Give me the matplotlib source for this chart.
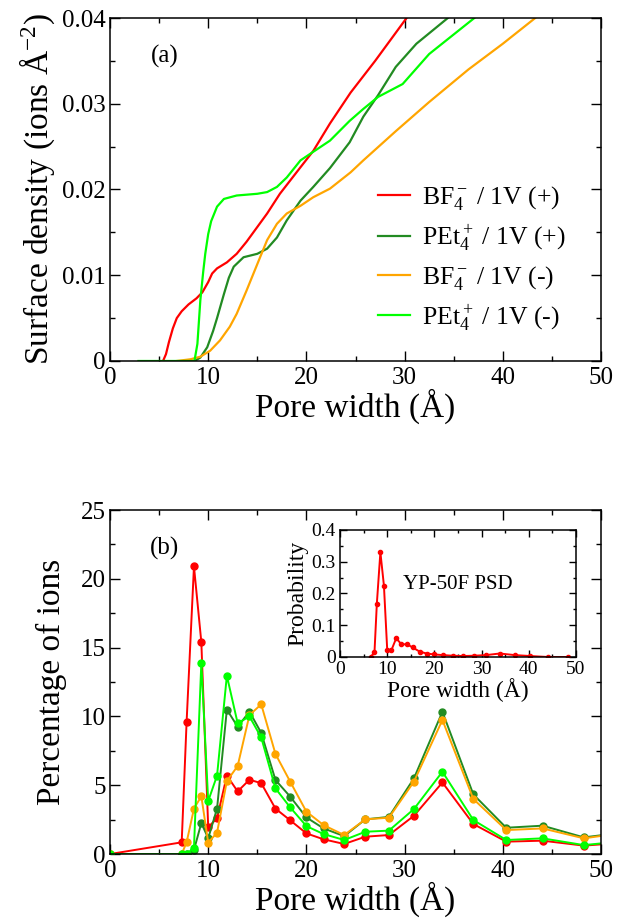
import matplotlib
matplotlib.use("Agg")
import matplotlib.pyplot as plt
from matplotlib.ticker import MultipleLocator

plt.rcParams['font.family'] = ['Liberation Serif', 'DejaVu Serif']
plt.rcParams['mathtext.fontset'] = 'custom'
plt.rcParams['mathtext.rm'] = 'Liberation Serif'
plt.rcParams['mathtext.it'] = 'Liberation Serif:italic'
plt.rcParams['mathtext.bf'] = 'Liberation Serif:bold'

# ---------------- Panel (a): cumulative surface density ----------------
red_a_x = [5.4, 5.7, 6.0, 6.4, 6.8, 7.3, 8.0, 8.8, 9.4, 10.0, 10.4, 10.9, 11.9, 12.9, 13.9,
           16.0, 17.3, 19.4, 20.7, 22.4, 24.5, 27.0, 30.2]
red_a_y = [0.0, 0.0008, 0.0022, 0.0038, 0.0050, 0.0058, 0.0066, 0.0073, 0.0080, 0.0092, 0.0102,
           0.0108, 0.0115, 0.0125, 0.0139, 0.0172, 0.0195, 0.0226, 0.0245, 0.0277, 0.0313,
           0.0350, 0.0400]

dkgreen_a_x = [8.6, 9.2, 9.9, 10.5, 10.9, 11.6, 12.1, 12.6, 13.6, 15.0, 16.0, 17.0, 18.0, 19.4,
               20.7, 22.4, 24.4, 25.8, 27.3, 29.1, 31.2, 34.4]
dkgreen_a_y = [0.0, 0.0004, 0.0016, 0.0035, 0.0050, 0.0078, 0.0097, 0.0110, 0.0121, 0.0125,
               0.0131, 0.0144, 0.0164, 0.0187, 0.0203, 0.0225, 0.0255, 0.0285, 0.0310, 0.0343,
               0.0370, 0.0400]

orange_a_x = [6.8, 8.2, 9.2, 10.2, 11.2, 12.2, 12.9, 13.9, 15.0, 16.0, 17.0, 18.0, 19.4, 20.7,
              22.4, 24.5, 25.8, 29.1, 32.5, 36.5, 40.0, 43.3]
orange_a_y = [0.0, 0.0002, 0.0005, 0.0012, 0.0024, 0.0040, 0.0055, 0.0082, 0.0113, 0.0141,
              0.0160, 0.0172, 0.0181, 0.0191, 0.0201, 0.0220, 0.0234, 0.0268, 0.0302, 0.0340,
              0.0370, 0.0400]

ltgreen_a_x = [2.9, 8.6, 8.9, 9.2, 9.5, 9.7, 10.0, 10.3, 10.9, 11.6, 12.9, 15.0, 16.0, 17.0,
               18.0, 19.4, 20.7, 22.4, 24.4, 25.8, 27.3, 29.8, 32.5, 37.1]
ltgreen_a_y = [0.0, 0.0, 0.0020, 0.0071, 0.0105, 0.0125, 0.0148, 0.0163, 0.0180, 0.0189, 0.0193,
               0.0195, 0.0197, 0.0203, 0.0214, 0.0234, 0.0244, 0.0257, 0.0280, 0.0294, 0.0308,
               0.0323, 0.0358, 0.0400]

legend_labels = [r'BF$_4^-$ / 1V (+)', r'PEt$_4^+$ / 1V (+)',
                 r'BF$_4^-$ / 1V (-)', r'PEt$_4^+$ / 1V (-)']

# ---------------- Panel (b): percentage of ions ----------------
pore_b = [0.0, 7.3, 7.8, 8.55, 9.3, 10.0, 10.9, 11.9, 13.0, 14.2, 15.4, 16.85, 18.35, 20.0,
          21.75, 23.85, 26.0, 28.4, 30.95, 33.85, 37.0, 40.35, 44.05, 48.25, 52.6]
red_b = [0.0, 0.85, 9.6, 20.9, 15.4, 1.95, 2.6, 5.7, 4.55, 5.4, 5.15, 3.3, 2.45, 1.5, 1.07,
         0.73, 1.26, 1.38, 2.78, 5.2, 2.18, 0.9, 0.97, 0.61, 0.84]
dkgreen_b = [0.0, 0.0, 0.0, 0.3, 2.25, 1.15, 3.3, 10.5, 9.25, 10.35, 8.8, 5.38, 4.17, 2.66,
             1.86, 1.3, 2.52, 2.7, 5.5, 10.34, 4.33, 1.91, 2.06, 1.21, 1.59]
orange_b = [0.0, 0.0, 0.85, 3.3, 4.2, 0.83, 1.55, 5.3, 6.4, 10.1, 10.88, 7.27, 5.26, 3.08,
            2.1, 1.38, 2.52, 2.64, 5.26, 9.74, 4.0, 1.74, 1.86, 1.14, 1.57]
ltgreen_b = [0.0, 0.0, 0.0, 0.46, 13.9, 3.85, 5.7, 12.96, 9.5, 10.0, 8.47, 4.77, 3.39, 2.03,
             1.45, 1.02, 1.62, 1.7, 3.27, 5.98, 2.47, 1.02, 1.14, 0.65, 0.95]

# ---------------- Inset: YP-50F pore size distribution ----------------
psd_x = [6.5, 7.3, 7.8, 8.55, 9.3, 10.0, 10.9, 11.9, 13.0, 14.2, 15.4, 16.85, 18.35, 20.0,
         21.75, 23.85, 26.0, 28.4, 30.95, 33.85, 37.0, 40.35, 44.05, 48.25]
psd_y = [0.0, 0.015, 0.168, 0.33, 0.225, 0.022, 0.022, 0.059, 0.040, 0.040, 0.030, 0.017,
         0.011, 0.008, 0.006, 0.004, 0.003, 0.004, 0.006, 0.011, 0.006, 0.003, 0.0, 0.0]

RED = '#ff0000'
DKGREEN = '#228b22'
ORANGE = '#ffa500'
LTGREEN = '#00ff00'


def style_axes(ax, tick_size, major_len=7, minor_len=3.5, xpad=4):
    ax.tick_params(which='both', direction='in', top=True, right=True, width=1.0)
    ax.tick_params(which='major', length=major_len, labelsize=tick_size)
    ax.tick_params(axis='x', which='major', pad=xpad)
    ax.tick_params(axis='y', which='major', pad=3)
    ax.tick_params(which='minor', length=minor_len)
    for s in ax.spines.values():
        s.set_linewidth(1.1)


fig = plt.figure(figsize=(6.18, 9.19), dpi=100)

# ---- top panel ----
ax1 = fig.add_axes([0.178, 0.6072, 0.7945, 0.3732])
for xs, ys, c, lab in [(red_a_x, red_a_y, RED, legend_labels[0]),
                       (dkgreen_a_x, dkgreen_a_y, DKGREEN, legend_labels[1]),
                       (orange_a_x, orange_a_y, ORANGE, legend_labels[2]),
                       (ltgreen_a_x, ltgreen_a_y, LTGREEN, legend_labels[3])]:
    ax1.plot(xs, ys, color=c, lw=1.6, label=lab)
ax1.set_xlim(0, 50)
ax1.set_ylim(0, 0.04)
ax1.xaxis.set_major_locator(MultipleLocator(10))
ax1.xaxis.set_minor_locator(MultipleLocator(5))
ax1.yaxis.set_minor_locator(MultipleLocator(0.005))
ax1.set_yticks([0, 0.01, 0.02, 0.03, 0.04])
ax1.set_yticklabels(['0', '0.01', '0.02', '0.03', '0.04'])
style_axes(ax1, 18)
ax1.set_xlabel('Pore width (Å)', fontsize=24, labelpad=0)
ax1.set_ylabel(r'Surface density (ions Å$^{-2}$)', fontsize=24, labelpad=4)
ax1.text(5.6, 0.0355, '(a)', fontsize=18, ha='center', va='center')
leg = ax1.legend(loc='upper left', bbox_to_anchor=(0.525, 0.545), frameon=False,
                 fontsize=18.5, handlelength=1.25, handletextpad=0.45, labelspacing=0.4,
                 borderaxespad=0)

# ---- bottom panel ----
ax2 = fig.add_axes([0.178, 0.0707, 0.7945, 0.3743])
for ys, c in [(red_b, RED), (dkgreen_b, DKGREEN), (orange_b, ORANGE), (ltgreen_b, LTGREEN)]:
    ax2.plot(pore_b, ys, color=c, lw=1.4, marker='o', ms=5, mec=c, mfc=c)
ax2.set_xlim(0, 50)
ax2.set_ylim(0, 25)
ax2.xaxis.set_major_locator(MultipleLocator(10))
ax2.xaxis.set_minor_locator(MultipleLocator(5))
ax2.yaxis.set_major_locator(MultipleLocator(5))
ax2.yaxis.set_minor_locator(MultipleLocator(2.5))
style_axes(ax2, 18)
ax2.set_xlabel('Pore width (Å)', fontsize=24, labelpad=0)
ax2.set_ylabel('Percentage of ions', fontsize=24, labelpad=10)
ax2.text(5.6, 22.2, '(b)', fontsize=18, ha='center', va='center')

# ---- inset ----
ax3 = fig.add_axes([0.5502, 0.2851, 0.3819, 0.1382])
ax3.plot(psd_x, psd_y, color=RED, lw=1.4, marker='o', ms=3, mec=RED, mfc=RED)
ax3.set_xlim(0, 50)
ax3.set_ylim(0, 0.4)
ax3.xaxis.set_major_locator(MultipleLocator(10))
ax3.xaxis.set_minor_locator(MultipleLocator(5))
ax3.yaxis.set_minor_locator(MultipleLocator(0.05))
ax3.set_yticks([0, 0.1, 0.2, 0.3, 0.4])
ax3.set_yticklabels(['0', '0.1', '0.2', '0.3', '0.4'])
style_axes(ax3, 14, major_len=5, minor_len=2.5, xpad=3)
ax3.set_xlabel('Pore width (Å)', fontsize=17, labelpad=0)
ax3.set_ylabel('Probability', fontsize=17, labelpad=2)
ax3.text(13.3, 0.227, 'YP-50F PSD', fontsize=15, ha='left', va='center')

fig.savefig('out.png', dpi=100)
